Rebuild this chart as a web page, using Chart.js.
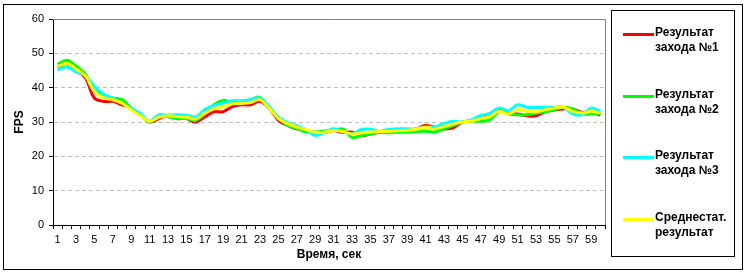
<!DOCTYPE html>
<html>
<head>
<meta charset="utf-8">
<script src="https://cdn.jsdelivr.net/npm/chart.js@4"></script>
<style>
  body { margin: 0; background: #fff; }
  #wrap { position: relative; width: 748px; height: 274px; }
  #fps { position: absolute; left: 0; top: 0; }
  #frame { position: absolute; left: 3px; top: 4px; width: 738px; height: 264px; border: 1px solid #000; }
  #legend { position: absolute; left: 611px; top: 10px; width: 122px; height: 245px; border: 1px solid #000;
            font: bold 12px Arial, "Liberation Sans", sans-serif; color: #000; }
  .item { position: absolute; left: 11px; }
  .item i { position: absolute; left: 0; top: 6px; width: 31px; height: 3px; }
  .item span { position: absolute; left: 32px; top: -2px; line-height: 15px; white-space: nowrap; }
</style>
</head>
<body>
<div id="wrap">
  <div id="frame"></div>
  <canvas id="fps" width="748" height="274"></canvas>
  <div id="legend"></div>
</div>
<script>
var seconds = [];
for (var s = 1; s <= 60; s++) seconds.push(String(s));

var run1 = [46,47,45,43,37,36,36,35,34,32,30,31,32,31,31,30,31.5,33,33,34.5,35,35,36,34,30.5,29,28,27.5,27,27,
            27.5,27,27,26,26.5,27,27.2,27.5,27.5,28,29,28.5,28,28.3,30,30.3,31,32,33.6,32.5,32.3,31.8,31.8,33,33.5,33.8,33.8,32.8,33,32];
var run2 = [46.8,48,46.3,44,39,38,37,36.5,34,32,30,32,31.5,31,31,30.5,32.5,35,36.3,35.5,36,36.5,37.2,34,31.2,29,28.2,27.1,27,27.4,
            27.5,28,25.5,26,26.5,27,26.9,27,27,27.2,27.3,27.1,28,29,30,30.3,30.2,30.7,33,32.3,32.1,32.1,32.6,33,33.6,34.3,33.8,32.4,32.3,32.5];
var run3 = [45.2,46,44.7,43.5,40.4,38,37,35.5,34,32.5,30.3,32,32,32.1,32,31.5,33.6,34.8,35.5,36.2,36.2,36.5,37,34.5,31.4,29.8,28.9,27.8,26.1,27,
            28,27.2,26.5,27.8,27.9,27.3,27.9,28,28,28,28.5,28.6,29.5,30.2,30,30.7,31.9,32.5,34.1,33.3,35,34.3,34.2,34.2,34.3,34.3,32.4,32.1,34.1,33.1];
var average = [46.2,47.1,45.5,43.5,38.8,37,36.5,35.5,33.5,31.8,30.2,31.4,31.8,31.6,31.4,30.9,32.6,33.9,34.5,35.3,35.4,35.7,36.5,34,31,29.5,28.5,27.8,27,27,
               27.5,27.3,26.5,26.8,27.1,27.2,27.3,27.5,27.6,27.9,28.5,28,28.7,29.4,30,30.3,31,31.6,33.1,32.3,33.6,33.1,33,33.6,34.1,34.3,33.1,32.6,33.1,32.6];

var names = [["Результат", "захода №1"], ["Результат", "захода №2"], ["Результат", "захода №3"], ["Среднестат.", "результат"]];
var colors = ["#ff0000", "#00ff00", "#00ffff", "#ffff00"];
var series = [run1, run2, run3, average];

// legend on the right, drawn as html
var legend = document.getElementById('legend');
names.forEach(function(n, i){
  var d = document.createElement('div');
  d.className = 'item';
  d.style.top = (16 + i * 61.5) + 'px';
  d.innerHTML = '<i style="background:' + colors[i] + '"></i><span>' + n.join('<br>') + '</span>';
  legend.appendChild(d);
});

var plotFrame = {
  id: 'plotFrame',
  beforeDatasetsDraw: function(chart){
    var a = chart.chartArea, c = chart.ctx;
    c.save();
    c.strokeStyle = '#808080';
    c.lineWidth = 1;
    c.beginPath();
    c.moveTo(a.left, a.top + 0.5);
    c.lineTo(a.right + 0.5, a.top + 0.5);
    c.lineTo(a.right + 0.5, a.bottom);
    c.stroke();
    c.restore();
  }
};

var font = 'Arial, "Liberation Sans", sans-serif';

new Chart(document.getElementById('fps'), {
  type: 'line',
  data: {
    labels: seconds,
    datasets: series.map(function(d, i){
      return {
        label: names[i].join(' '),
        data: d,
        borderColor: colors[i],
        backgroundColor: colors[i],
        borderWidth: 3,
        pointRadius: 0,
        tension: 0.35,
        order: 3 - i
      };
    })
  },
  options: {
    responsive: false,
    animation: false,
    layout: { padding: { left: 5, top: 19, right: 143, bottom: 8 } },
    plugins: { legend: { display: false }, tooltip: { enabled: false } },
    scales: {
      x: {
        offset: true,
        grid: { offset: true, drawOnChartArea: false, tickLength: 4, tickColor: '#000' },
        border: { color: '#000', width: 1 },
        ticks: {
          autoSkip: false, maxRotation: 0, padding: 4, color: '#000',
          font: { family: font, size: 11 },
          callback: function(v, i){ return i % 2 === 0 ? this.getLabelForValue(v) : ''; }
        },
        title: { display: true, text: 'Время, сек', color: '#000', padding: { top: 0, bottom: 4 },
                 font: { family: font, size: 12, weight: 'bold' } },
        afterFit: function(sc){ sc.height = 41; }
      },
      y: {
        min: 0, max: 60,
        grid: {
          color: function(c){ return c.tick && c.tick.value === 0 ? 'rgba(0,0,0,0)' : '#c0c0c0'; },
          tickLength: 4, tickColor: '#000', tickBorderDash: []
        },
        border: { color: '#000', width: 1, dash: [4, 3] },
        ticks: { stepSize: 10, padding: 5, color: '#000', font: { family: font, size: 11 } },
        title: { display: true, text: 'FPS', color: '#000', padding: { top: 7, bottom: 0 },
                 font: { family: font, size: 12, weight: 'bold' } },
        afterFit: function(sc){ sc.width = 48; }
      }
    }
  },
  plugins: [plotFrame]
});
</script>
</body>
</html>
